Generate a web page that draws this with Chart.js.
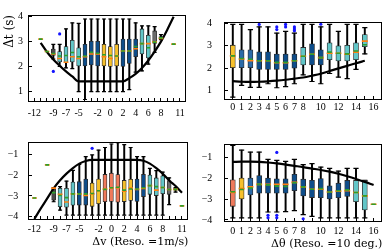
<!DOCTYPE html>
<html>
<head>
<meta charset="utf-8">
<script src="https://cdn.jsdelivr.net/npm/chart.js@4.4.0/dist/chart.umd.min.js"></script>
<style>
  html, body { margin: 0; padding: 0; background: #fff; overflow: hidden; }
  body { width: 388px; height: 251px; position: relative; }
  canvas { position: absolute; }
</style>
</head>
<body>
<canvas id="tl" width="194" height="122" style="left:0;top:0"></canvas>
<canvas id="tr" width="194" height="122" style="left:194px;top:0"></canvas>
<canvas id="bl" width="194" height="129" style="left:0;top:122px"></canvas>
<canvas id="br" width="194" height="129" style="left:194px;top:122px"></canvas>
<script>
// tick positions and labels
const dvTicks = [-12, -11, -10, -9, -8, -7, -6, -5, -4, -3, -2, -1, 0, 1, 2, 3, 4, 5, 6, 7, 8, 9, 10, 11];
const dvLabels = [-12, -9, -7, -5, -2, 0, 2, 4, 6, 8, 11];
const dthTicks = [0, 1, 2, 3, 4, 5, 6, 7, 8, 9, 10, 11, 12, 13, 14, 15, 16];
const dthLabels = [0, 1, 2, 3, 4, 5, 6, 7, 8, 10, 12, 14, 16];
const dtTicks = [1, 2, 3, 4];
const accTicks = [-4, -3, -2, -1];

// top left: delta t vs delta v
const tlPos  = [-11, -10, -9, -8, -7, -6, -5, -4, -3, -2, -1, 0, 1, 2, 3, 4, 5, 6, 7, 8, 10];
const tlLow  = [null, null, 2.30, 2.00, 1.94, 1.91, 0.99, 0.67, 0.99, 0.99, 0.99, 0.99, 0.99, 0.99, 1.07, 1.77, 1.82, 2.09, 2.57, 3.08, null];
const tlQ1   = [null, null, 2.44, 2.18, 2.16, 2.18, 2.02, 2.02, 2.06, 2.02, 2.02, 2.00, 2.02, 2.00, 2.12, 2.39, 2.50, 2.34, 2.93, 3.12, null];
const tlMed  = [3.10, 2.60, 2.50, 2.32, 2.17, 2.39, 2.32, 2.39, 2.50, 2.50, 2.39, 2.32, 2.42, 2.62, 2.62, 2.71, 2.92, 2.92, 2.99, 3.13, 2.90];
const tlMean = [3.10, 2.60, 2.52, 2.42, 2.44, 2.56, 2.39, 2.42, 2.57, 2.53, 2.47, 2.44, 2.42, 2.62, 2.62, 2.80, 2.92, 2.75, 2.98, 3.15, 2.90];
const tlQ3   = [null, null, 2.70, 2.60, 2.80, 3.05, 2.75, 2.89, 3.01, 3.01, 2.89, 2.80, 2.89, 3.10, 3.10, 3.10, 3.51, 3.25, 3.43, 3.20, null];
const tlHigh = [null, null, 2.89, 2.89, 3.51, 3.75, 3.73, 3.91, 3.91, 3.91, 3.91, 3.91, 3.91, 3.91, 3.91, 3.75, 3.63, 3.63, 3.60, 3.28, null];
const tlKind = ['', '', 'k', 't', 't', 't', 't', 'b', 'b', 'b', 'y', 'y', 'y', 'b', 'b', 'b', 't', 't', 'g', 'k', ''];
const tlOutX = [-9, -8];
const tlOutY = [1.80, 3.31];
const tlCurveX = [-11, -10, -9, -8, -7, -6, -5, -4, -3, -2, -1, 0, 1, 2, 3, 4, 5, 6, 7, 8, 9, 10];
const tlCurveY = [2.95, 2.58, 2.28, 2.03, 1.80, 1.60, 1.40, 1.40, 1.40, 1.40, 1.40, 1.40, 1.40, 1.40, 1.53, 1.70, 1.94, 2.24, 2.60, 3.00, 3.48, 4.00];

// top right: delta t vs delta theta
const trPos  = [0, 1, 2, 3, 4, 5, 6, 7, 8, 9, 10, 11, 12, 13, 14, 15];
const trLow  = [0.70, 1.23, 1.14, 1.14, 1.30, 1.12, 1.17, 1.30, 1.70, 1.40, 1.30, 1.76, 1.60, 1.53, 1.94, 2.64];
const trQ1   = [2.02, 2.02, 2.02, 1.94, 1.94, 1.94, 1.94, 2.00, 2.14, 2.14, 2.14, 2.38, 2.32, 2.32, 2.38, 2.96];
const trMed  = [2.55, 2.41, 2.33, 2.33, 2.33, 2.24, 2.24, 2.33, 2.53, 2.62, 2.47, 2.67, 2.67, 2.62, 2.71, 3.21];
const trMean = [2.55, 2.43, 2.40, 2.33, 2.33, 2.26, 2.26, 2.33, 2.53, 2.62, 2.47, 2.72, 2.67, 2.64, 2.77, 3.05];
const trQ3   = [3.03, 2.82, 2.82, 2.73, 2.73, 2.63, 2.63, 2.63, 2.93, 3.09, 2.82, 3.14, 3.00, 3.02, 3.14, 3.51];
const trHigh = [3.96, 3.96, 3.73, 3.85, 3.85, 3.57, 3.65, 3.57, 3.96, 3.96, 3.85, 3.96, 3.65, 3.96, 3.96, 3.82];
const trKind = ['y', 'l', 'l', 'b', 'b', 'b', 'b', 'b', 't', 'b', 'b', 't', 't', 't', 't', 't'];
const trOutX = [3, 5, 5, 6, 6, 7, 7, 7, 10];
const trOutY = [3.96, 3.73, 3.85, 3.85, 3.96, 3.68, 3.76, 3.85, 3.97];
const trCurveX = [0, 1, 2, 3, 4, 5, 6, 7, 8, 9, 10, 11, 12, 13, 14, 15];
const trCurveY = [1.42, 1.39, 1.38, 1.39, 1.41, 1.44, 1.48, 1.53, 1.58, 1.66, 1.75, 1.87, 1.99, 2.10, 2.22, 2.33];

// bottom left: acceleration vs delta v
const blPos  = [-12, -10, -9, -8, -7, -6, -5, -4, -3, -2, -1, 0, 1, 2, 3, 4, 5, 6, 7, 8, 9, 10, 11];
const blLow  = [null, null, -3.28, -3.68, -3.92, -3.92, -3.92, -3.92, -3.92, -3.92, -3.92, -3.92, -3.92, -3.92, -3.92, -3.92, -3.92, -3.92, -3.92, -3.92, -3.42, -2.81, null];
const blQ1   = [null, null, -3.20, -3.52, -3.54, -3.45, -3.44, -3.44, -3.50, -3.37, -3.28, -3.26, -3.30, -3.27, -3.22, -3.26, -3.03, -2.92, -2.98, -2.89, -2.92, -2.72, null];
const blMed  = [-3.10, -1.50, -2.62, -2.92, -3.29, -2.90, -2.90, -2.97, -2.90, -2.75, -2.67, -2.62, -2.60, -2.77, -2.62, -2.68, -2.64, -2.50, -2.72, -2.59, -2.69, -2.68, -3.48];
const blMean = [-3.10, -1.50, -2.84, -2.98, -3.08, -2.90, -2.90, -2.90, -2.88, -2.75, -2.68, -2.60, -2.58, -2.72, -2.66, -2.66, -2.60, -2.50, -2.55, -2.59, -2.69, -2.68, -3.48];
const blQ3   = [null, null, -2.64, -2.63, -2.63, -2.33, -2.31, -2.18, -2.38, -2.18, -1.96, -1.90, -1.97, -2.25, -2.20, -2.18, -1.96, -1.99, -2.13, -2.03, -2.26, -2.63, null];
const blHigh = [null, null, -2.60, -2.55, -2.28, -1.76, -1.48, -1.10, -1.02, -0.79, -0.66, -0.49, -0.43, -0.52, -0.66, -1.10, -1.10, -1.67, -1.78, -1.85, -2.13, -2.59, null];
const blKind = ['', '', 'k', 't', 't', 't', 'b', 'b', 'y', 'y', 's', 's', 's', 'y', 'y', 'b', 'b', 't', 't', 't', 'g', 'k', ''];
const blOutX = [-3];
const blOutY = [-0.70];
const blCurveX = [-12, -11, -10, -9, -8, -7, -6, -5, -4, -3, -2, -1, 0, 1, 2, 3, 4, 5, 6, 7, 8, 9, 10, 11];
const blCurveY = [-4.11, -3.60, -3.12, -2.63, -2.24, -1.92, -1.65, -1.44, -1.31, -1.26, -1.26, -1.26, -1.26, -1.26, -1.26, -1.26, -1.26, -1.30, -1.44, -1.66, -1.93, -2.25, -2.52, -2.85];

// bottom right: acceleration vs delta theta
const brPos  = [0, 1, 2, 3, 4, 5, 6, 7, 8, 9, 10, 11, 12, 13, 14, 15, 16];
const brLow  = [-3.90, -3.90, -3.90, -3.90, -3.62, -3.62, -3.60, -3.56, -3.75, -3.83, -3.90, -3.90, -3.90, -3.90, -3.90, -3.90, null];
const brQ1   = [-3.35, -3.00, -2.80, -2.72, -2.72, -2.72, -2.72, -2.60, -2.85, -2.93, -2.94, -3.00, -2.94, -2.88, -3.13, -3.52, null];
const brMed  = [-2.68, -2.50, -2.42, -2.30, -2.30, -2.30, -2.30, -2.20, -2.42, -2.53, -2.53, -2.66, -2.62, -2.60, -2.69, -2.85, -3.25];
const brMean = [-2.65, -2.54, -2.48, -2.30, -2.32, -2.38, -2.40, -2.22, -2.42, -2.53, -2.50, -2.66, -2.60, -2.56, -2.69, -2.85, -3.25];
const brQ3   = [-2.08, -2.00, -2.00, -1.88, -2.00, -2.03, -2.03, -1.82, -2.05, -2.10, -2.02, -2.37, -2.24, -2.11, -2.11, -2.11, null];
const brHigh = [-0.43, -0.66, -0.75, -0.75, -1.10, -1.15, -1.20, -1.10, -1.35, -1.30, -1.47, -1.53, -1.66, -1.53, -1.53, -2.11, null];
const brKind = ['s', 'y', 'l', 'b', 'b', 'b', 'b', 'b', 'b', 'b', 'b', 'b', 'b', 'b', 't', 't', ''];
const brOutX = [4, 4, 5, 5, 5, 8];
const brOutY = [-3.78, -3.90, -3.78, -3.90, -0.77, -3.95];
const brCurveX = [0, 1, 2, 3, 4, 5, 6, 7, 8, 9, 10, 11, 12, 13, 14, 15, 16];
const brCurveY = [-1.22, -1.21, -1.21, -1.22, -1.25, -1.29, -1.35, -1.41, -1.47, -1.54, -1.61, -1.69, -1.79, -1.91, -2.04, -2.18, -2.33];

const PALETTE = {
  y: '#f6c02c',
  t: '#62c6c8',
  b: '#0e4d8a',
  l: '#2a6aa8',
  s: '#ef7a5c',
  g: '#6b6b6b',
  k: '#4a4a4a'
};
const TICK_FONT = {family: 'Liberation Serif', size: 10};
const TITLE_FONT = {family: 'DejaVu Serif', size: 11};

// draws the box round the plot area
const framePlugin = {
  id: 'frame',
  afterDraw(chart) {
    const a = chart.chartArea;
    const ctx = chart.ctx;
    ctx.save();
    ctx.strokeStyle = '#000';
    ctx.lineWidth = 1;
    const l = Math.round(a.left) + 0.5, t = Math.round(a.top) + 0.5;
    const r = Math.round(a.right) - 0.5, b = Math.round(a.bottom) - 0.5;
    ctx.strokeRect(l, t, r - l, b - t);
    ctx.restore();
  }
};

function minusSign(v) {
  return v < 0 ? '\u2212' + Math.abs(v) : String(v);
}

function tickGrid() {
  return {display: true, drawOnChartArea: false, drawTicks: true, tickLength: -4, color: '#000', lineWidth: 1, offset: false};
}

function boxChart(id, s) {
  const boxes = [], whiskers = [], caps = [], medians = [], means = [], colors = [];
  s.pos.forEach((x, i) => {
    if (s.q1[i] !== null) {
      boxes.push({x: x, y: [s.q1[i], s.q3[i]]});
      colors.push(PALETTE[s.kind[i]]);
      whiskers.push({x: x, y: [s.low[i], s.high[i]]});
      caps.push({x: x, y: s.low[i]}, {x: x, y: s.high[i]});
    }
    medians.push({x: x, y: s.med[i]});
    means.push({x: x, y: s.mean[i]});
  });
  const outliers = s.outX.map((x, i) => ({x: x, y: s.outY[i]}));
  const curve = s.curveX.map((x, i) => ({x: x, y: s.curveY[i]}));

  const datasets = [
    {type: 'bar', data: whiskers, backgroundColor: '#000', borderWidth: 0,
     barThickness: 1.3, grouped: false, order: 7},
    {type: 'line', data: caps, showLine: false, pointStyle: 'line', pointRadius: s.capR,
     borderColor: '#000', pointBorderColor: '#000', pointBorderWidth: 1.2, order: 6},
    {type: 'bar', data: boxes, backgroundColor: colors, borderColor: '#2b2b2b', borderWidth: 0.8,
     borderSkipped: false, barThickness: s.boxW, grouped: false, order: 5},
    {type: 'line', data: curve, borderColor: '#000', borderWidth: 2.2, pointRadius: 0,
     cubicInterpolationMode: 'monotone', fill: false, order: 4},
    {type: 'line', data: medians, showLine: false, pointStyle: 'line', pointRadius: s.medR,
     borderColor: '#ff7f0e', pointBorderColor: '#ff7f0e', pointBorderWidth: 1.6, order: 3},
    {type: 'line', data: means, showLine: false, pointStyle: 'line', pointRadius: s.meanR,
     borderColor: '#2ca02c', pointBorderColor: '#2ca02c', pointBorderWidth: 1.6, order: 2},
    {type: 'line', data: outliers, showLine: false, pointStyle: 'circle', pointRadius: 1.6,
     pointBackgroundColor: '#1414ff', pointBorderWidth: 0, order: 1}
  ];

  new Chart(document.getElementById(id), {
    type: 'bar',
    data: {datasets: datasets},
    plugins: [framePlugin],
    options: {
      responsive: false,
      animation: false,
      events: [],
      layout: {padding: s.padding},
      plugins: {legend: {display: false}, tooltip: {enabled: false}},
      scales: {
        x: {
          type: 'linear', min: s.xMin, max: s.xMax, offset: false,
          afterBuildTicks: sc => { sc.ticks = s.xTicks.map(v => ({value: v})); },
          afterFit: sc => { sc.height = s.xHeight; },
          grid: tickGrid(),
          border: {display: false},
          ticks: {autoSkip: false, maxRotation: 0, minRotation: 0, padding: s.xPad, color: '#000', font: TICK_FONT,
                  callback: v => s.xLabels.includes(v) ? String(v) : ''},
          title: {display: !!s.xTitle, text: s.xTitle || '', align: 'end', color: '#000', font: TITLE_FONT,
                  padding: {top: 0, bottom: s.xTitlePad || 0}}
        },
        y: {
          type: 'linear', min: s.yMin, max: s.yMax,
          afterBuildTicks: sc => { sc.ticks = s.yTicks.map(v => ({value: v})); },
          afterFit: sc => { sc.width = s.yWidth; },
          grid: tickGrid(),
          border: {display: false},
          ticks: {padding: s.yPad, color: '#000', font: TICK_FONT, callback: v => minusSign(v)},
          title: {display: !!s.yTitle, text: s.yTitle || '', align: 'end', color: '#000',
                  font: {family: 'DejaVu Serif', size: 12}, padding: {top: 2.8, bottom: 0}}
        }
      }
    }
  });
}

boxChart('tl', {
  pos: tlPos, low: tlLow, q1: tlQ1, med: tlMed, mean: tlMean, q3: tlQ3, high: tlHigh, kind: tlKind,
  outX: tlOutX, outY: tlOutY, curveX: tlCurveX, curveY: tlCurveY,
  xTicks: dvTicks, xLabels: dvLabels, yTicks: dtTicks,
  xMin: -13, xMax: 12, yMin: 0.57, yMax: 4.07,
  padding: {top: 3, right: 2, left: 0, bottom: 0},
  xHeight: 20, yWidth: 28, xPad: 9, yPad: 9, yTitle: '\u0394t (s)',
  boxW: 4, capR: 2, medR: 2.4, meanR: 1.8
});

boxChart('tr', {
  pos: trPos, low: trLow, q1: trQ1, med: trMed, mean: trMean, q3: trQ3, high: trHigh, kind: trKind,
  outX: trOutX, outY: trOutY, curveX: trCurveX, curveY: trCurveY,
  xTicks: dthTicks, xLabels: dthLabels, yTicks: dtTicks,
  xMin: -1, xMax: 17, yMin: 0.57, yMax: 4.07,
  padding: {top: 3, right: 1, left: 0, bottom: 0},
  xHeight: 20, yWidth: 30, xPad: 5, yPad: 16,
  boxW: 5, capR: 2.6, medR: 3, meanR: 2.2
});

boxChart('bl', {
  pos: blPos, low: blLow, q1: blQ1, med: blMed, mean: blMean, q3: blQ3, high: blHigh, kind: blKind,
  outX: blOutX, outY: blOutY, curveX: blCurveX, curveY: blCurveY,
  xTicks: dvTicks, xLabels: dvLabels, yTicks: accTicks,
  xMin: -13, xMax: 12, yMin: -4.16, yMax: -0.38,
  padding: {top: 2.7, right: 2, left: 0, bottom: 0},
  xHeight: 31, yWidth: 28, xPad: 7, yPad: 13.7,
  xTitle: '\u0394v (Reso. =1m/s)', xTitlePad: 1.9,
  boxW: 4, capR: 2, medR: 2.4, meanR: 1.8
});

boxChart('br', {
  pos: brPos, low: brLow, q1: brQ1, med: brMed, mean: brMean, q3: brQ3, high: brHigh, kind: brKind,
  outX: brOutX, outY: brOutY, curveX: brCurveX, curveY: brCurveY,
  xTicks: dthTicks, xLabels: dthLabels, yTicks: accTicks,
  xMin: -1, xMax: 17, yMin: -4.1, yMax: -0.35,
  padding: {top: 2.5, right: 1, left: 0, bottom: 0},
  xHeight: 29, yWidth: 30, xPad: 7.7, yPad: 15.7,
  xTitle: '\u0394\u03b8 (Reso. =10 deg.)', xTitlePad: 0.4,
  boxW: 5, capR: 2.6, medR: 3, meanR: 2.2
});
</script>
</body>
</html>
